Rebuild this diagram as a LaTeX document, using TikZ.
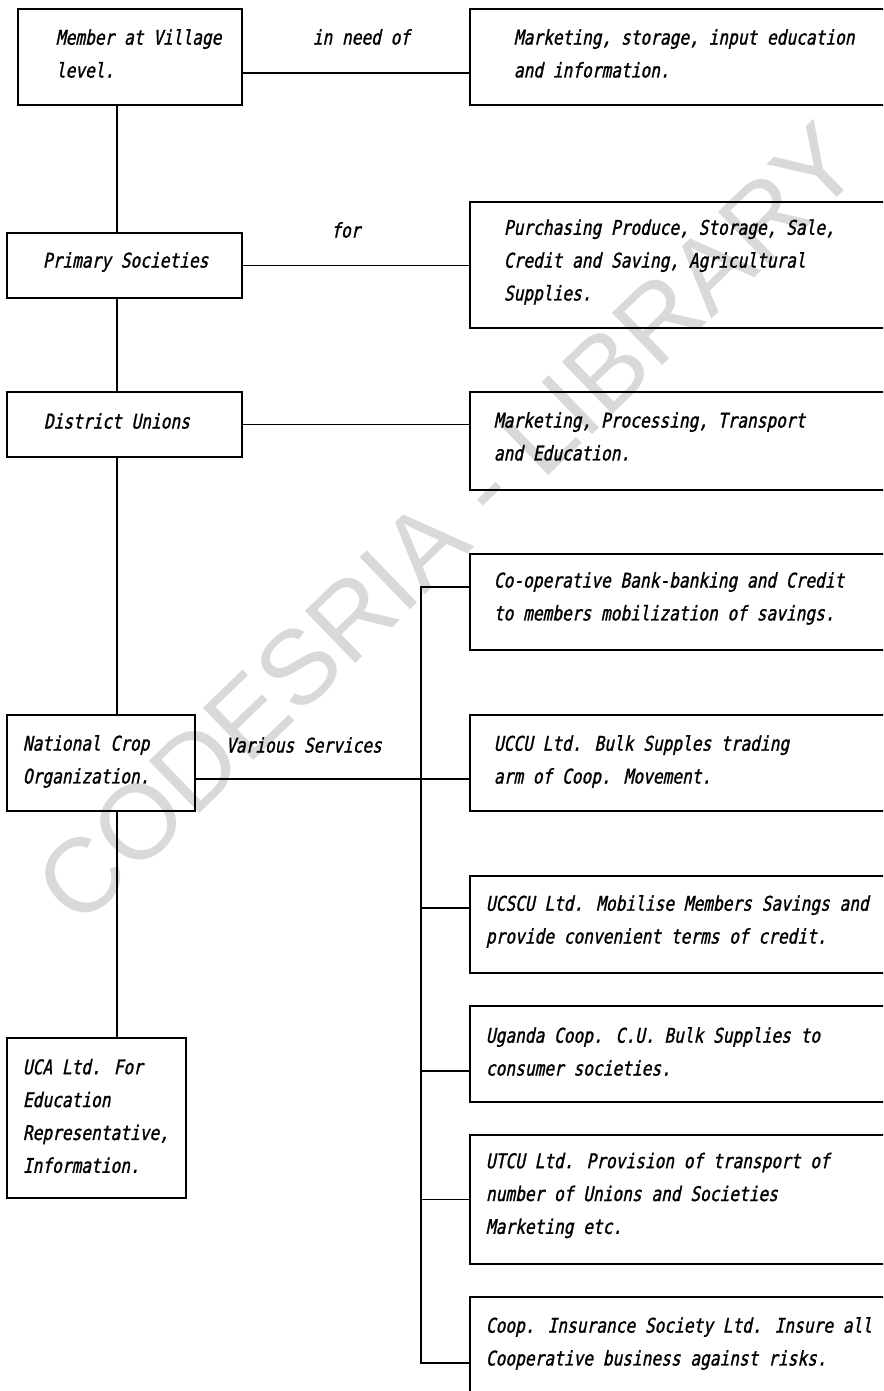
\documentclass[tikz,border=0pt]{standalone}
\usepackage{fontspec}
\newfontfamily\dotfont[FakeStretch=0.8,FakeSlant=0.2,FakeBold=1.2]{DejaVu Sans Mono}
\newfontfamily\markfont{Liberation Sans}
\begin{document}
\begin{tikzpicture}[line width=1.1pt,
        box/.style={draw, minimum height=1.92cm, inner sep=0pt},
        rbox/.style={box, anchor=west, minimum width=8.8cm},
        txt/.style={anchor=west, align=left, inner sep=0pt, font=\dotfont\fontsize{11.5}{18.7}\selectfont}]
        \useasboundingbox (0, 0) rectangle (17.66, 27.82);
        \clip (0, 0) rectangle (17.66, 27.82);
        \node[rotate=44, text=black!15, font=\markfont\fontsize{60}{62}\selectfont] (mark) at (8.95, 17.35) {CODESRIA - LIBRARY};

        \node[box, minimum width=4.48cm] (member) at (2.60, 26.68) {};
        \node[txt] (member-t) at (1.10, 26.75) {Member at Village\\level.};
        \node[box, minimum width=4.70cm, minimum height=1.30cm] (primary) at (2.49, 22.51) {};
        \node[txt] (primary-t) at (0.84, 22.58) {Primary Societies};
        \node[box, minimum width=4.70cm, minimum height=1.30cm] (district) at (2.49, 19.33) {};
        \node[txt] (district-t) at (0.86, 19.40) {District Unions};
        \node[box, minimum width=3.76cm] (national) at (2.02, 12.56) {};
        \node[txt] (national-t) at (0.44, 12.59) {National Crop\\Organization.};
        \node[box, minimum width=3.58cm, minimum height=3.20cm] (uca) at (1.93, 5.46) {};
        \node[txt] (uca-t) at (0.44, 5.50) {UCA Ltd. For\\Education\\Representative,\\Information.};

        \node[rbox] (need) at (9.38, 26.68) {};
        \node[txt] (need-t) at (10.26, 26.75) {Marketing, storage, input education\\and information.};
        \node[rbox, minimum height=2.52cm] (purchase) at (9.38, 22.52) {};
        \node[txt] (purchase-t) at (10.06, 22.58) {Purchasing Produce, Storage, Sale,\\Credit and Saving, Agricultural\\Supplies.};
        \node[rbox, minimum height=1.96cm] (market) at (9.38, 19.00) {};
        \node[txt] (market-t) at (9.86, 19.09) {Marketing, Processing, Transport\\and Education.};
        \node[rbox] (bank) at (9.38, 15.78) {};
        \node[txt] (bank-t) at (9.86, 15.85) {Co-operative Bank-banking and Credit\\to members mobilization of savings.};
        \node[rbox] (uccu) at (9.38, 12.56) {};
        \node[txt] (uccu-t) at (9.86, 12.59) {UCCU Ltd. Bulk Supples trading\\arm of Coop. Movement.};
        \node[rbox, minimum height=1.94cm] (ucscu) at (9.38, 9.33) {};
        \node[txt] (ucscu-t) at (9.70, 9.39) {UCSCU Ltd. Mobilise Members Savings and\\provide convenient terms of credit.};
        \node[rbox] (ugcoop) at (9.38, 6.74) {};
        \node[txt] (ugcoop-t) at (9.70, 6.79) {Uganda Coop. C.U. Bulk Supplies to\\consumer societies.};
        \node[rbox, minimum height=2.58cm] (utcu) at (9.38, 3.83) {};
        \node[txt] (utcu-t) at (9.70, 3.91) {UTCU Ltd. Provision of transport of\\number of Unions and Societies\\Marketing etc.};
        \node[rbox] (insure) at (9.38, 0.92) {};
        \node[txt] (insure-t) at (9.70, 0.95) {Coop. Insurance Society Ltd. Insure all\\Cooperative business against risks.};

        \node[txt, anchor=center] (needof) at (7.23, 27.08) {in need of};
        \node[txt, anchor=center] (forlbl) at (6.92, 23.22) {for};
        \node[txt, anchor=center] (various) at (6.08, 12.92) {Various Services};

        \coordinate (spine) at (2.34, 0);
        \draw (spine |- member.south) -- (spine |- primary.north);
        \draw (spine |- primary.south) -- (spine |- district.north);
        \draw (spine |- district.south) -- (spine |- national.north);
        \draw (spine |- national.south) -- (spine |- uca.north);
        \draw ([yshift=-3.2mm]member.east) -- ([yshift=-3.2mm]need.west);
        \draw (primary.east) -- (primary.east -| purchase.west);
        \draw (district.east) -- (district.east -| market.west);
        \draw ([yshift=-3.2mm]national.east) -- ([yshift=-3.2mm]uccu.west);

        \coordinate (bustop) at (8.42, 16.08);
        \coordinate (busbot) at (8.42, 0.56);
        \draw (bank.west |- bustop) -- (bustop) -- (busbot) -- (insure.west |- busbot);
        \draw ([yshift=3.3mm]ucscu.west) -- ([yshift=3.3mm]ucscu.west -| bustop);
        \draw ([yshift=-3.4mm]ugcoop.west) -- ([yshift=-3.4mm]ugcoop.west -| bustop);
        \draw (utcu.west) -- (utcu.west -| bustop);
    \end{tikzpicture}
\end{document}
